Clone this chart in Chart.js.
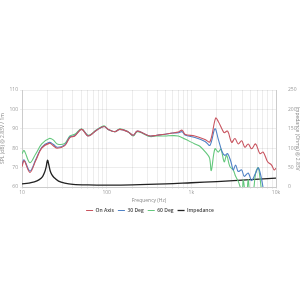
<!DOCTYPE html>
<html>
<head>
<meta charset="utf-8">
<script src="https://cdn.jsdelivr.net/npm/chart.js@4.4.1/dist/chart.umd.min.js"></script>
<style>
  html, body { margin: 0; padding: 0; background: #fff; }
  #wrap { position: absolute; left: 0; top: 83px; width: 300px; height: 140px; }
</style>
</head>
<body>
<div id="wrap"><canvas id="chart"></canvas></div>
<script>
// frequency response
var onAxisFreq = [10, 10.6, 12.4, 14.5, 17.1, 21, 23.4, 26, 32, 36.8, 42, 50.6, 60.6, 76, 93, 104, 125, 143, 178, 206, 229, 270, 325, 390, 490, 600, 700, 780, 840, 1100, 1450, 1660, 1935, 2080, 2315, 2445, 2685, 2993, 3272, 3580, 3926, 4296, 4698, 5150, 5745, 6460, 7060, 7960, 8870, 9525, 10000];
var onAxisSpl = [70.5, 73.5, 67.5, 73.5, 80, 82.5, 81.3, 80, 81.3, 85.5, 86.3, 89.7, 86.3, 89.3, 91.2, 89.7, 88.5, 89.7, 88.5, 86.7, 88.8, 87.7, 86.3, 86.7, 87.2, 87.8, 88.3, 89.3, 87.2, 86.3, 84.5, 83.3, 95.5, 93.8, 89.7, 88, 88.8, 83, 85, 82.2, 83.8, 80.5, 82.2, 79.7, 82.2, 77.2, 78, 73, 71.3, 68.8, 69.7];

var deg30Freq = [10, 10.6, 12.4, 14.5, 17.1, 21, 23.4, 26, 32, 36.8, 42, 50.6, 60.6, 76, 93, 104, 125, 143, 178, 206, 229, 270, 325, 390, 490, 600, 700, 780, 840, 1100, 1450, 1660, 1900, 2080, 2315, 2493, 2685, 2935, 3126, 3335, 3580, 3926, 4217, 4698, 5150, 5745, 6200, 6765, 7195, 7600, 8500, 10000];
var deg30Spl = [71.3, 74, 68.2, 74, 80.5, 83, 82, 80.5, 81.7, 85.8, 86.5, 89.8, 86.4, 89.3, 91.2, 89.7, 88.5, 89.7, 88.5, 86.7, 88.8, 87.7, 86.3, 86.7, 87.2, 87.8, 88, 88.5, 86.8, 85.5, 83.5, 81.5, 90, 84.7, 78, 76.3, 77.2, 73, 68.8, 71.3, 68, 68.8, 65.5, 67.2, 63.3, 67.2, 69.8, 63.8, 57, 52, 48, 45];

var deg60Freq = [10, 10.6, 12.4, 14.5, 17.1, 21, 23.4, 26, 32, 36.8, 42, 50.6, 60.6, 76, 93, 104, 125, 143, 178, 206, 229, 270, 325, 390, 490, 600, 700, 840, 1100, 1260, 1500, 1640, 1720, 1900, 2080, 2235, 2445, 2610, 2856, 3126, 3335, 3580, 3852, 4000, 4102, 4296, 4500, 4698, 4920, 5300, 5745, 6100, 6285, 6765, 7200, 8000, 10000];
var deg60Spl = [77.2, 78.8, 72.5, 77, 82.2, 85, 84.3, 82.2, 82.5, 86.3, 87.2, 90, 86.6, 89.5, 91.5, 89.7, 88.5, 90, 88.5, 86.3, 88.5, 87.5, 86, 86.3, 86.3, 86.5, 86.3, 84.7, 82.2, 81, 77.5, 75, 68.5, 79.7, 78, 79.5, 73, 76.3, 70.5, 68.8, 65.5, 63, 59, 58, 63.8, 58, 56, 63.8, 57, 56, 67, 70, 68.8, 58, 52, 48, 45];

var impFreq = [10, 12, 14, 16, 17.5, 18.5, 19.3, 20, 20.7, 21.5, 22.5, 24, 27, 32, 40, 60, 100, 200, 500, 1000, 2000, 5000, 10000];
var impOhms = [8.3, 10, 13, 19, 27, 38, 52, 69, 58, 42, 32, 24, 15, 10, 7, 5.5, 5, 5.5, 8, 11, 14, 19, 23];

var freqTicks = [10, 20, 30, 40, 50, 60, 70, 80, 90, 100, 200, 300, 400, 500, 600, 700, 800, 900, 1000, 2000, 3000, 4000, 5000, 6000, 7000, 8000, 9000, 10000];
var freqLabelAt = [10, 100, 1000, 10000];
var freqLabels = ['10', '100', '1k', '10k'];

function pts(fs, vs) {
    return fs.map(function (f, i) { return { x: f, y: vs[i] }; });
}

var tickFont = { family: 'Open Sans', size: 5 };
var tickColor = '#9a9a9a';
var gridColor = 'rgba(0,0,0,0.07)';

var ctx = document.getElementById('chart').getContext('2d');
new Chart(ctx, {
    type: 'line',
    data: {
        datasets: [
            { label: 'On Axis', data: pts(onAxisFreq, onAxisSpl), borderColor: '#c8545f', yAxisID: 'y' },
            { label: '30 Deg', data: pts(deg30Freq, deg30Spl), borderColor: '#4f82c6', yAxisID: 'y' },
            { label: '60 Deg', data: pts(deg60Freq, deg60Spl), borderColor: '#63c77c', yAxisID: 'y' },
            { label: 'Impedance', data: pts(impFreq, impOhms), borderColor: '#222222', yAxisID: 'y1', borderWidth: 1.3 }
        ]
    },
    options: {
        responsive: true,
        maintainAspectRatio: false,
        animation: false,
        layout: { padding: { top: 3, left: 0, right: 0, bottom: 0 } },
        elements: {
            point: { radius: 0 },
            line: { borderWidth: 1.1, tension: 0.35, fill: false }
        },
        plugins: {
            tooltip: { enabled: false },
            legend: {
                position: 'bottom',
                labels: {
                    usePointStyle: true,
                    pointStyle: 'line',
                    pointStyleWidth: 7,
                    boxHeight: 5,
                    padding: 4,
                    color: '#444',
                    font: { family: 'Open Sans', size: 5, weight: '600' }
                }
            }
        },
        scales: {
            x: {
                type: 'logarithmic',
                min: 10,
                max: 10000,
                afterBuildTicks: function (scale) {
                    scale.ticks = freqTicks.map(function (v) { return { value: v }; });
                },
                ticks: {
                    autoSkip: false,
                    maxRotation: 0,
                    padding: 1,
                    color: tickColor,
                    font: tickFont,
                    callback: function (v) {
                        var i = freqLabelAt.indexOf(v);
                        return i >= 0 ? freqLabels[i] : '';
                    }
                },
                grid: { color: gridColor, tickLength: 2 },
                border: { color: '#ccc' },
                title: { display: true, text: 'Frequency (Hz)', color: '#888', font: tickFont, padding: { top: 1, bottom: 0 } }
            },
            y: {
                position: 'left',
                min: 60,
                max: 110,
                ticks: { stepSize: 10, color: tickColor, font: tickFont, padding: 2 },
                grid: { color: gridColor, tickLength: 2 },
                border: { color: '#ccc' },
                title: { display: true, text: 'SPL (dB) @ 2.83V / 1m', color: '#888', font: tickFont, padding: 0 },
                afterFit: function (scale) { scale.width = 22; }
            },
            y1: {
                position: 'right',
                min: 0,
                max: 250,
                ticks: { stepSize: 50, color: tickColor, font: tickFont, padding: 4 },
                grid: { display: false },
                border: { color: '#ccc' },
                title: { display: true, text: 'Impedance (Ohms) @ 2.83V', color: '#888', font: tickFont, padding: 0 },
                afterFit: function (scale) { scale.width = 24; }
            }
        }
    }
});
</script>
</body>
</html>
